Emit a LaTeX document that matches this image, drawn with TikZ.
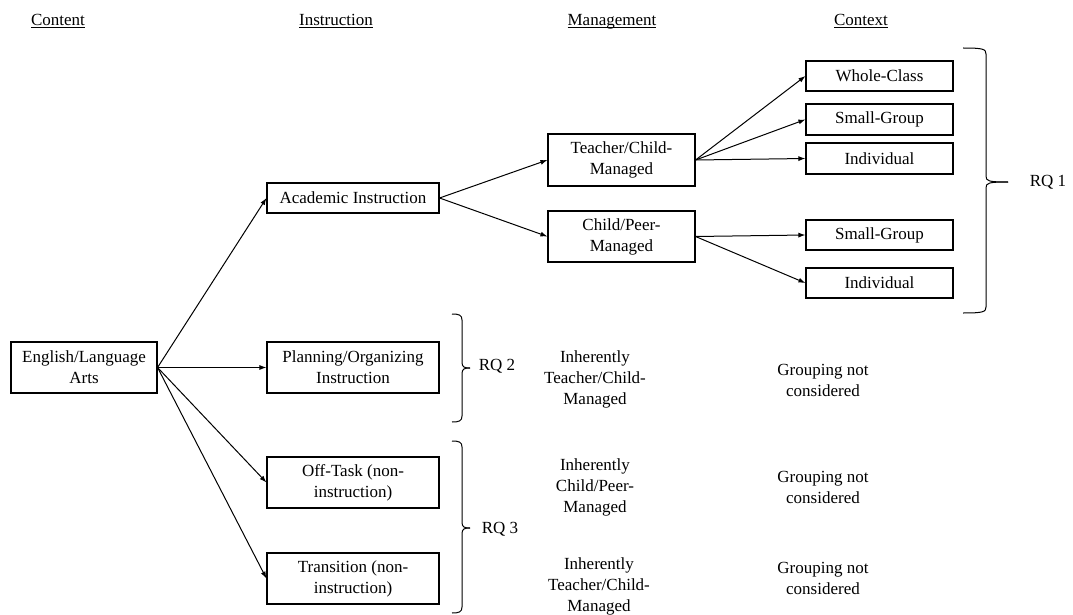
\documentclass[tikz,border=0pt]{standalone}
\usepackage{fontspec}
\setmainfont{Liberation Serif}
\usetikzlibrary{arrows.meta}
\newcommand{\rqbrace}[6]{%
  \draw[bracestyle] (#1,#3) .. controls (#2-3,#3) and (#2,#3+1) .. (#2,#3+6)
    -- (#2,#5-6) .. controls (#2,#5-1) and (#2+2,#5) .. (#6,#5);
  \draw[bracestyle] (#1,#4) .. controls (#2-3,#4) and (#2,#4-1) .. (#2,#4-6)
    -- (#2,#5+6) .. controls (#2,#5+1) and (#2+2,#5) .. (#6,#5);
}
\newcommand{\hdrline}[1]{\underline{\raisebox{0pt}[\height][0pt]{#1}}}
\begin{document}
\begin{tikzpicture}[x=1pt,y=-1pt,
  font=\fontsize{17}{21}\selectfont,
  box/.style={draw,line width=1.1pt,align=center,inner sep=1pt,minimum width=#1},
  box/.default=172pt,
  plain/.style={align=center,inner sep=0pt},
  header/.style={inner sep=0pt,anchor=base},
  arr/.style={-{Latex[length=7pt,width=5pt]},line width=1pt},
  bracestyle/.style={line width=1pt}]
\useasboundingbox (0,0) rectangle (1073,615);
% headers
\node[header] (hcontent) at (58,26) {\hdrline{Content}};
\node[header] (hinstr) at (336,26) {\hdrline{Instruction}};
\node[header] (hmanag) at (612,26) {\hdrline{Management}};
\node[header] (hcontext) at (861,26) {\hdrline{Context}};
% boxes
\node[box=146pt,minimum height=51pt] (eng) at (84,367.5) {English/Language\\Arts};
\node[box,minimum height=30pt] (acad) at (353,198) {Academic Instruction};
\node[box,minimum height=51pt] (plan) at (353,367.5) {Planning/Organizing\\Instruction};
\node[box,minimum height=51pt] (off) at (353,482.5) {Off-Task (non-\\instruction)};
\node[box,minimum height=51pt] (trans) at (353,578.5) {Transition (non-\\instruction)};
\node[box=147pt,minimum height=52pt] (tcm) at (621.5,160) {Teacher/Child-\\Managed};
\node[box=147pt,minimum height=51pt] (cpm) at (621.5,236.5) {Child/Peer-\\Managed};
\node[box=147pt,minimum height=30pt] (whole) at (879.5,76) {Whole-Class};
\node[box=147pt,minimum height=31pt] (sga) at (879.5,119.5) {Small-Group};
\node[box=147pt,minimum height=31pt] (inda) at (879.5,158.5) {Individual};
\node[box=147pt,minimum height=30pt] (sgb) at (879.5,235) {Small-Group};
\node[box=147pt,minimum height=30pt] (indb) at (879.5,283) {Individual};
% plain texts
\node[plain] (m1) at (595,379) {Inherently\\Teacher/Child-\\Managed};
\node[plain] (m2) at (595,487) {Inherently\\Child/Peer-\\Managed};
\node[plain] (m3) at (599,586) {Inherently\\Teacher/Child-\\Managed};
\node[plain] (g1) at (823,380) {Grouping not\\considered};
\node[plain] (g2) at (823,487) {Grouping not\\considered};
\node[plain] (g3) at (823,578) {Grouping not\\considered};
\node[plain] (rq1) at (1048,182) {RQ 1};
\node[plain] (rq2) at (497,366) {RQ 2};
\node[plain] (rq3) at (500,529) {RQ 3};
% arrows
\draw[arr] (eng.east) -- (acad.west);
\draw[arr] (eng.east) -- (plan.west);
\draw[arr] (eng.east) -- (off.west);
\draw[arr] (eng.east) -- (trans.west);
\draw[arr] (acad.east) -- (tcm.west);
\draw[arr] (acad.east) -- (cpm.west);
\draw[arr] (tcm.east) -- (whole.west);
\draw[arr] (tcm.east) -- (sga.west);
\draw[arr] (tcm.east) -- (inda.west);
\draw[arr] (cpm.east) -- (sgb.west);
\draw[arr] (cpm.east) -- (indb.west);
% braces
\rqbrace{963}{986}{48}{313}{182}{1008}
\rqbrace{452}{462}{314}{422}{368}{470}
\rqbrace{452}{462}{441}{613}{528}{470}
\end{tikzpicture}
\end{document}
